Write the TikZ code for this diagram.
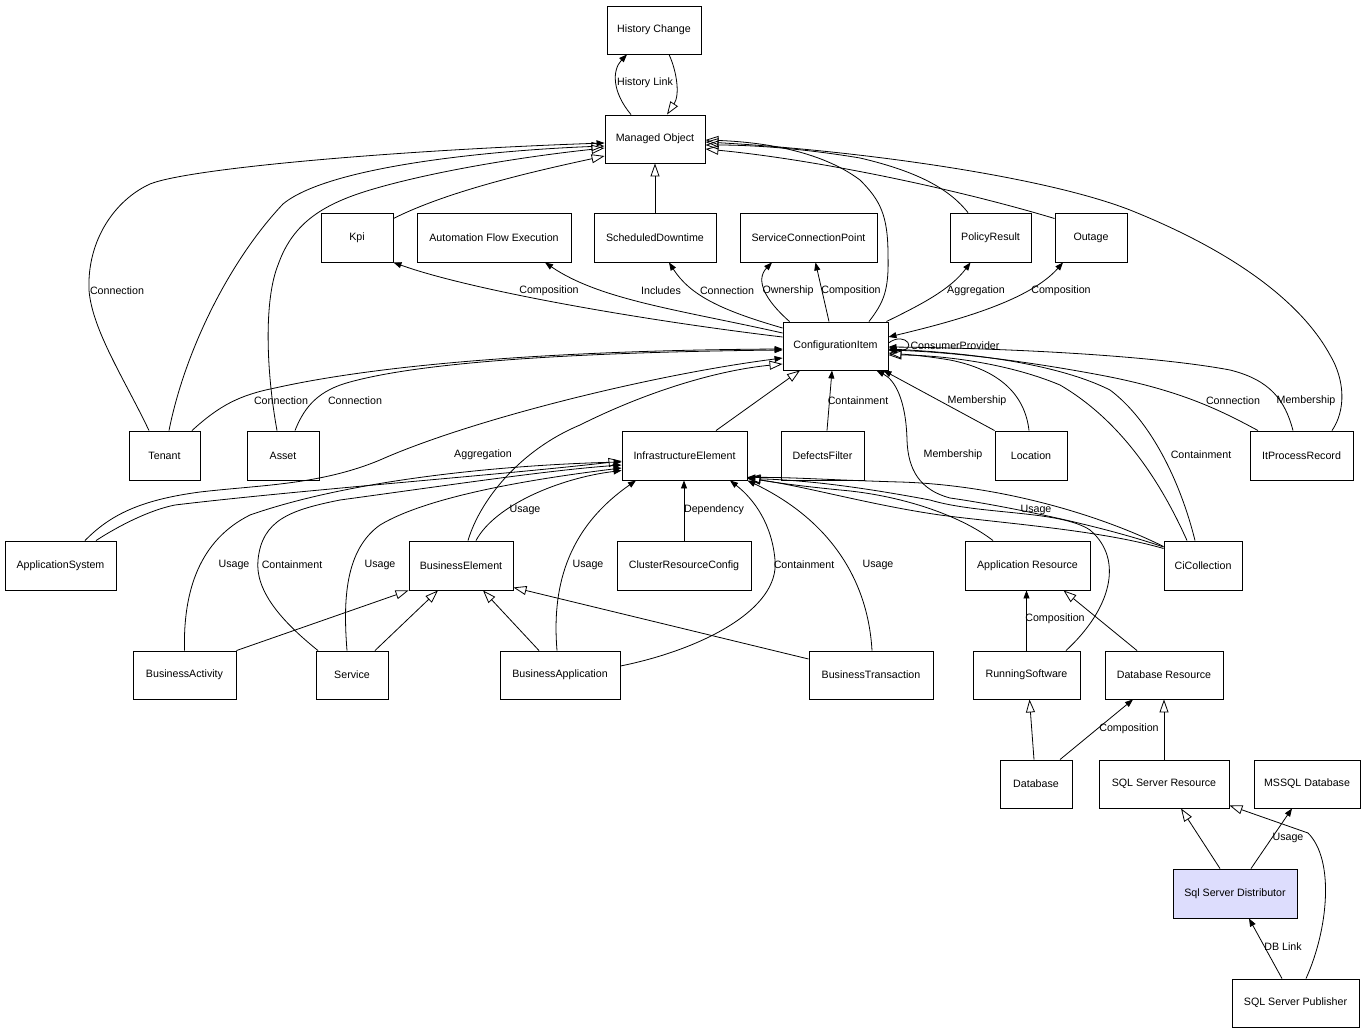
\documentclass[tikz,border=0pt]{standalone}
\usepackage{fontspec}
\setmainfont{Liberation Sans}
\usetikzlibrary{arrows.meta}
\newcommand\dgfont{\fontsize{10.67}{12}\selectfont}
\definecolor{distfill}{RGB}{221,221,253}
\tikzset{
 box/.style={draw, line width=0.9pt, inner sep=0pt, minimum height=48pt, font=\dgfont},
 assoc/.style={line width=0.8pt, -{Triangle[length=8pt,width=6pt]}},
 inh/.style={line width=0.8pt, -{Triangle[open,length=13pt,width=9pt]}},
 both/.style={line width=0.8pt, {Triangle[length=8pt,width=6pt]}-{Triangle[length=8pt,width=6pt]}},
 lab/.style={font=\dgfont, inner sep=0pt}
}
\begin{document}
\begin{tikzpicture}[x=1pt,y=-1pt]
\useasboundingbox[fill=white] (0,0) rectangle (1366,1033);
% nodes
\node[box, minimum width=94pt] (hc) at (654,30) {History Change};
\node[box, minimum width=100pt] (mo) at (655,139) {Managed Object};
\node[box, minimum width=72pt, minimum height=49pt] (kpi) at (357,237.5) {Kpi};
\node[box, minimum width=154pt, minimum height=49pt] (afe) at (494,237.5) {Automation Flow Execution};
\node[box, minimum width=122pt, minimum height=49pt] (sd) at (655,237.5) {ScheduledDowntime};
\node[box, minimum width=137pt, minimum height=49pt] (scp) at (808.5,237.5) {ServiceConnectionPoint};
\node[box, minimum width=81pt, minimum height=49pt] (pr) at (990.5,237.5) {PolicyResult};
\node[box, minimum width=72pt, minimum height=49pt] (out) at (1091,237.5) {Outage};
\node[box, minimum width=105pt] (ci) at (835.5,346) {ConfigurationItem};
\node[box, minimum width=71pt, minimum height=49pt] (tenant) at (164.5,455.5) {Tenant};
\node[box, minimum width=72pt, minimum height=49pt] (asset) at (283,455.5) {Asset};
\node[box, minimum width=125pt, minimum height=49pt] (ie) at (684.5,455.5) {InfrastructureElement};
\node[box, minimum width=83pt, minimum height=49pt] (df) at (822.5,455.5) {DefectsFilter};
\node[box, minimum width=72pt, minimum height=49pt] (loc) at (1031,455.5) {Location};
\node[box, minimum width=103pt, minimum height=49pt] (itpr) at (1301.5,455.5) {ItProcessRecord};
\node[box, minimum width=111pt, minimum height=49pt] (appsys) at (60.5,565.5) {ApplicationSystem};
\node[box, minimum width=104pt, minimum height=49pt] (be) at (461,565.5) {BusinessElement};
\node[box, minimum width=134pt, minimum height=49pt] (crc) at (684,565.5) {ClusterResourceConfig};
\node[box, minimum width=125pt, minimum height=49pt] (ar) at (1027.5,565.5) {Application Resource};
\node[box, minimum width=78pt, minimum height=49pt] (cic) at (1203,565.5) {CiCollection};
\node[box, minimum width=103pt] (ba) at (184.5,675) {BusinessActivity};
\node[box, minimum width=72pt] (svc) at (352,675) {Service};
\node[box, minimum width=120pt] (bapp) at (560,675) {BusinessApplication};
\node[box, minimum width=124pt] (bt) at (871,675) {BusinessTransaction};
\node[box, minimum width=107pt] (rs) at (1026.5,675) {RunningSoftware};
\node[box, minimum width=118pt] (dr) at (1164,675) {Database Resource};
\node[box, minimum width=72pt] (db) at (1036,784) {Database};
\node[box, minimum width=130pt] (ssr) at (1164,784) {SQL Server Resource};
\node[box, minimum width=106pt] (mssql) at (1307,784) {MSSQL Database};
\node[box, minimum width=124pt, minimum height=49pt, fill=distfill] (ssd) at (1235,893.5) {Sql Server Distributor};
\node[box, minimum width=127pt] (ssp) at (1295.5,1003) {SQL Server Publisher};
% edges: Managed Object / History Change
\draw[assoc] ([xshift=-24pt]mo.north) .. controls (612,92) and (612,70) .. ([xshift=-27pt]hc.south);
\draw[inh] ([xshift=15pt]hc.south) .. controls (677,72) and (680,95) .. ([xshift=12pt]mo.north);
\draw[inh] (sd.north) -- (mo.south);
\draw[inh] ([yshift=19pt]kpi.east) .. controls (450,190) and (540,170) .. ([yshift=-17pt]mo.west);
\draw[assoc] ([xshift=-15.5pt]tenant.north) .. controls (125,380) and (92,330) .. (89,290) .. controls (87,240) and (115,200) .. (150,184) .. controls (190,168) and (400,150) .. ([yshift=-4pt]mo.west);
\draw[inh] ([xshift=4.5pt]tenant.north) .. controls (185,350) and (230,260) .. (283,204) .. controls (330,165) and (500,150) .. ([yshift=-7pt]mo.west);
\draw[inh] ([xshift=-6pt]asset.north) .. controls (266,370) and (264,300) .. (278,265) .. controls (292,225) and (320,205) .. (370,190) .. controls (430,172) and (520,157) .. ([yshift=-9pt]mo.west);
\draw[inh] ([xshift=33.5pt]ci.north) .. controls (884,302) and (889,290) .. (888,255) .. controls (888,215) and (880,200) .. (860,180) .. controls (820,150) and (760,142) .. ([yshift=-1pt]mo.east);
\draw[inh] ([xshift=-22.5pt]pr.north) .. controls (950,190) and (920,172) .. (860,158) .. controls (800,148) and (750,145) .. ([yshift=-6pt]mo.east);
\draw[inh] ([yshift=19pt]out.west) .. controls (960,190) and (820,160) .. ([yshift=-10pt]mo.east);
\draw[inh] ([xshift=30.5pt]itpr.north) .. controls (1346,410) and (1345,380) .. (1330,355) .. controls (1300,300) and (1230,250) .. (1130,210) .. controls (1040,175) and (850,150) .. ([yshift=-3pt]mo.east);
% ConfigurationItem upwards
\draw[assoc] ([yshift=9pt]ci.west) .. controls (640,320) and (470,290) .. (kpi.south east);
\draw[assoc] ([yshift=13pt]ci.west) .. controls (680,310) and (600,300) .. ([xshift=51pt]afe.south);
\draw[assoc] ([yshift=18pt]ci.west) .. controls (720,310) and (690,295) .. ([xshift=14pt]sd.south);
\draw[assoc] ([xshift=7pt]ci.north west) .. controls (765,300) and (755,280) .. ([xshift=-36.5pt]scp.south);
\draw[assoc] ([xshift=-6.5pt]ci.north) -- ([xshift=7pt]scp.south);
\draw[assoc] ([xshift=-2pt]ci.north east) .. controls (920,305) and (950,290) .. ([xshift=-20pt]pr.south);
\draw[both] ([yshift=9pt]ci.east) .. controls (960,320) and (1030,300) .. ([xshift=-28pt]out.south);
\draw[assoc] ([yshift=3pt]ci.east) .. controls (906,330) and (920,352) .. ([yshift=-4pt]ci.east);
% into ConfigurationItem
\draw[assoc] ([xshift=27.5pt]tenant.north) .. controls (220,405) and (240,395) .. (275,388) .. controls (400,360) and (600,350) .. ([yshift=-3pt]ci.west);
\draw[assoc] ([xshift=12pt]asset.north) .. controls (305,405) and (320,390) .. (350,382) .. controls (430,360) and (600,352) .. ([yshift=-4pt]ci.west);
\draw[assoc] ([xshift=24.5pt]appsys.north) .. controls (110,515) and (140,500) .. (200,492) .. controls (260,485) and (320,485) .. (380,460) .. controls (470,420) and (650,375) .. ([yshift=-12pt]ci.west);
\draw[inh] ([xshift=7pt]be.north) .. controls (480,500) and (520,450) .. (580,425) .. controls (650,390) and (720,370) .. ([yshift=-18pt]ci.west);
\draw[inh] ([xshift=31.5pt]ie.north) -- ([xshift=-35.5pt]ci.south);
\draw[assoc] ([xshift=4.5pt]df.north) -- ([xshift=-3.5pt]ci.south);
\draw[assoc] (loc.north west) -- ([xshift=-5pt]ci.south east);
\draw[inh] ([xshift=-2pt]loc.north) .. controls (1025,395) and (1000,370) .. (950,360) .. controls (920,355) and (900,354) .. ([yshift=-7pt]ci.east);
\draw[assoc] ([yshift=18.5pt]cic.west) .. controls (1100,525) and (1000,505) .. (950,498) .. controls (920,490) and (908,470) .. (907,440) .. controls (906,400) and (895,380) .. ([xshift=-12pt]ci.south east);
\draw[assoc] ([xshift=-8pt]cic.north) .. controls (1180,480) and (1150,420) .. (1110,390) .. controls (1050,360) and (950,352) .. ([yshift=-3pt]ci.east);
\draw[inh] ([xshift=-16pt]cic.north) .. controls (1160,480) and (1120,420) .. (1060,385) .. controls (1000,360) and (930,355) .. ([yshift=-9pt]ci.east);
\draw[assoc] ([xshift=-43.5pt]itpr.north) .. controls (1220,410) and (1180,390) .. (1100,375) .. controls (1020,360) and (950,352) .. ([yshift=-4pt]ci.east);
\draw[assoc] ([xshift=-8.5pt]itpr.north) .. controls (1285,400) and (1270,380) .. (1230,370) .. controls (1150,355) and (1000,348) .. ([yshift=-1pt]ci.east);
% into InfrastructureElement
\draw[inh] ([xshift=35.5pt]appsys.north) .. controls (120,525) and (150,510) .. (175,505) .. controls (300,490) and (500,475) .. ([yshift=-5.5pt]ie.west);
\draw[assoc] ([xshift=15pt]be.north) .. controls (495,505) and (560,478) .. ([yshift=-15pt]ie.west);
\draw[assoc] (ba.north) .. controls (183,590) and (200,540) .. (250,515) .. controls (350,480) and (500,465) .. ([yshift=-6.5pt]ie.west);
\draw[assoc] ([xshift=-34pt]svc.north) .. controls (280,620) and (255,590) .. (258,560) .. controls (262,520) and (290,510) .. (340,500) .. controls (450,485) and (550,470) .. ([yshift=-9.5pt]ie.west);
\draw[assoc] ([xshift=-5pt]svc.north) .. controls (343,600) and (345,550) .. (380,525) .. controls (430,495) and (540,478) .. ([yshift=-12.5pt]ie.west);
\draw[assoc] ([xshift=-3pt]bapp.north) .. controls (552,590) and (565,530) .. ([xshift=-48.5pt]ie.south);
\draw[assoc] ([yshift=9pt]bapp.east) .. controls (700,650) and (780,610) .. (775,560) .. controls (772,525) and (755,500) .. ([xshift=45.5pt]ie.south);
\draw[assoc] (crc.north) -- (crc.north |- ie.south);
\draw[assoc] ([xshift=1pt]bt.north) .. controls (868,580) and (830,520) .. (ie.south east);
\draw[inh] ([xshift=-34.5pt]ar.north) .. controls (960,515) and (900,495) .. (840,490) .. controls (800,486) and (770,482) .. ([yshift=-21.5pt]ie.east);
\draw[assoc] ([yshift=19pt]cic.west) .. controls (1100,515) and (1000,485) .. (900,482) .. controls (830,480) and (790,477) .. ([yshift=-22pt]ie.east);
\draw[inh] ([yshift=17pt]cic.west) .. controls (1100,530) and (1000,523) .. (940,515) .. controls (870,505) and (800,485) .. ([yshift=-23pt]ie.east);
\draw[inh] ([xshift=39.5pt]rs.north) .. controls (1110,610) and (1125,560) .. (1090,530) .. controls (1060,510) and (980,515) .. (930,500) .. controls (850,485) and (800,480) .. ([yshift=-23pt]ie.east);
% into BusinessElement
\draw[inh] (ba.north east) -- (be.south west);
\draw[inh] ([xshift=23pt]svc.north) -- ([xshift=-23pt]be.south);
\draw[inh] ([xshift=-21pt]bapp.north) -- ([xshift=22pt]be.south);
\draw[inh] ([yshift=16pt]bt.west) -- ([yshift=3pt]be.south east);
% lower right
\draw[assoc] (rs.north) -- (rs.north |- ar.south);
\draw[inh] ([xshift=-27pt]dr.north) -- ([xshift=36pt]ar.south);
\draw[inh] ([xshift=-2pt]db.north) -- ([xshift=3pt]rs.south);
\draw[assoc] ([xshift=24pt]db.north) -- ([xshift=-31pt]dr.south);
\draw[inh] (ssr.north) -- (dr.south);
\draw[inh] ([xshift=-15pt]ssd.north) -- ([xshift=17pt]ssr.south);
\draw[assoc] ([xshift=16pt]ssd.north) -- ([xshift=-15pt]mssql.south);
\draw[assoc] ([xshift=-13.5pt]ssp.north) -- ([xshift=14pt]ssd.south);
\draw[inh] ([xshift=10.5pt]ssp.north) .. controls (1328,930) and (1335,860) .. (1308,833) -- ([yshift=3pt]ssr.south east);
% labels
\node[lab] (l1) at (645,83) {History Link};
\node[lab] (l2) at (117,291) {Connection};
\node[lab] (l3) at (549,291) {Composition};
\node[lab] (l4) at (661,291) {Includes};
\node[lab] (l5) at (727,291) {Connection};
\node[lab] (l6) at (788,291) {Ownership};
\node[lab] (l7) at (851,291) {Composition};
\node[lab] (l8) at (976,291) {Aggregation};
\node[lab] (l9) at (1061,291) {Composition};
\node[lab] (l10) at (955,346) {ConsumerProvider};
\node[lab] (l11) at (281,401) {Connection};
\node[lab] (l12) at (355,401) {Connection};
\node[lab] (l13) at (858,401) {Containment};
\node[lab] (l14) at (977,401) {Membership};
\node[lab] (l15) at (1233,401) {Connection};
\node[lab] (l16) at (1306,401) {Membership};
\node[lab] (l17) at (483,455) {Aggregation};
\node[lab] (l18) at (953,455) {Membership};
\node[lab] (l19) at (1201,455) {Containment};
\node[lab] (l20) at (525,510) {Usage};
\node[lab] (l21) at (714,510) {Dependency};
\node[lab] (l22) at (1036,510) {Usage};
\node[lab] (l23) at (234,565) {Usage};
\node[lab] (l24) at (292,565) {Containment};
\node[lab] (l25) at (380,565) {Usage};
\node[lab] (l26) at (588,565) {Usage};
\node[lab] (l27) at (804,565) {Containment};
\node[lab] (l28) at (878,565) {Usage};
\node[lab] (l29) at (1055,619) {Composition};
\node[lab] (l30) at (1129,729) {Composition};
\node[lab] (l31) at (1288,838) {Usage};
\node[lab] (l32) at (1283,947) {DB Link};
\end{tikzpicture}
\end{document}
